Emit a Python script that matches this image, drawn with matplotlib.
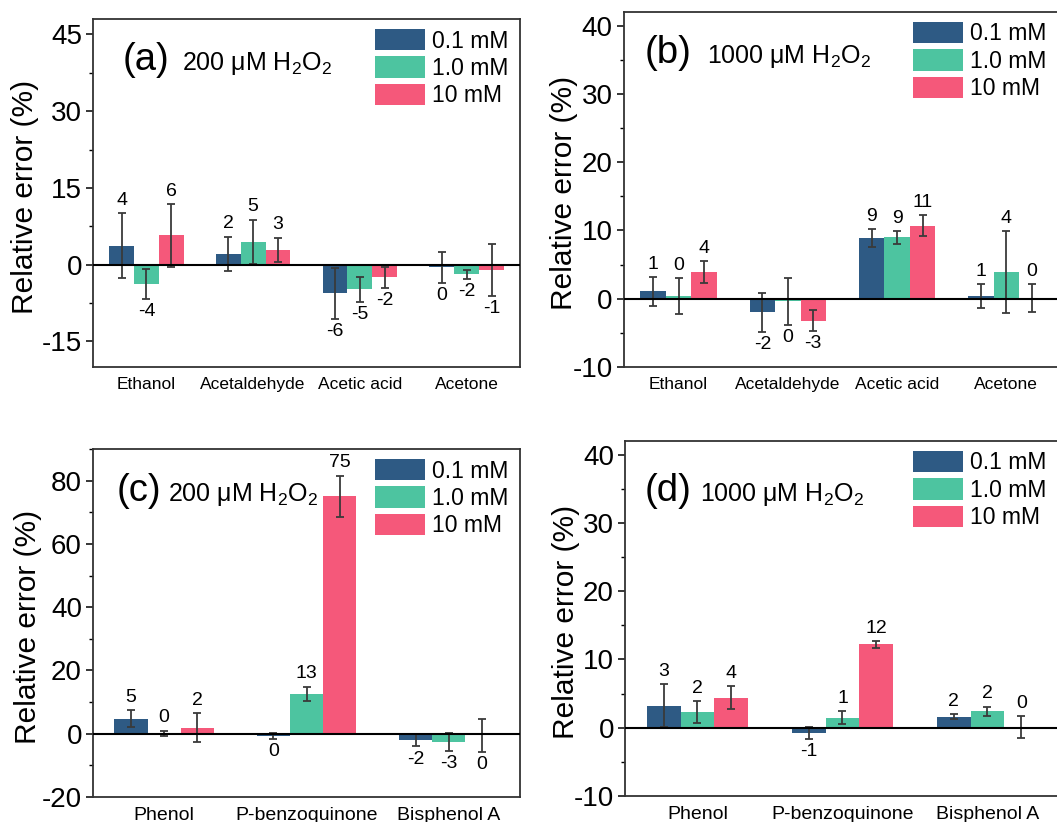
import matplotlib
matplotlib.use("Agg")
import matplotlib.pyplot as plt
import numpy as np
from matplotlib.patches import Patch
from matplotlib.ticker import MultipleLocator

plt.rcParams["font.family"] = ["Liberation Sans", "DejaVu Sans"]
plt.rcParams["mathtext.fontset"] = "custom"
plt.rcParams["mathtext.rm"] = "Liberation Sans"
plt.rcParams["mathtext.default"] = "regular"
plt.rcParams["axes.unicode_minus"] = False

_BLUE = "#2E5A84"; _GREEN = "#4DC4A0"; _PINK = "#F5587A"
_EDGE = "#333333"; _ERR = "#3A3A3A"

series_names = ["0.1 mM", "1.0 mM", "10 mM"]

# (a) 200 uM H2O2, volatile compounds
cats_ab = ["Ethanol", "Acetaldehyde", "Acetic acid", "Acetone"]
a_vals = [[3.7, 2.1, -5.6, -0.5], [-3.8, 4.5, -4.8, -1.9], [5.7, 2.9, -2.5, -1.0]]
a_errs = [[6.4, 3.4, 5.0, 3.0], [2.9, 4.3, 2.4, 0.85], [6.2, 2.4, 2.1, 5.1]]
a_lbls = [["4", "2", "-6", "0"], ["-4", "5", "-5", "-2"], ["6", "3", "-2", "-1"]]

# (b) 1000 uM H2O2, volatile compounds
b_vals = [[1.1, -2.0, 8.9, 0.4], [0.4, -0.4, 9.0, 3.9], [3.9, -3.2, 10.7, 0.1]]
b_errs = [[2.1, 2.9, 1.3, 1.8], [2.6, 3.4, 0.95, 6.0], [1.65, 1.55, 1.5, 2.0]]
b_lbls = [["1", "-2", "9", "1"], ["0", "0", "9", "4"], ["4", "-3", "11", "0"]]

# (c) 200 uM H2O2, aromatic compounds
cats_cd = ["Phenol", "P-benzoquinone", "Bisphenol A"]
c_vals = [[4.8, -0.7, -2.1], [0.2, 12.6, -2.7], [1.9, 75.0, -0.5]]
c_errs = [[2.7, 0.9, 1.9], [0.8, 2.3, 2.8], [4.65, 6.6, 5.3]]
c_lbls = [["5", "0", "-2"], ["0", "13", "-3"], ["2", "75", "0"]]

# (d) 1000 uM H2O2, aromatic compounds
d_vals = [[3.2, -0.8, 1.6], [2.25, 1.5, 2.4], [4.4, 12.2, 0.1]]
d_errs = [[3.15, 0.85, 0.35], [1.6, 1.0, 0.7], [1.7, 0.5, 1.6]]
d_lbls = [["3", "-1", "2"], ["2", "1", "2"], ["4", "12", "0"]]


def _panel(ax, cats, vals, errs, lbls, ylim, major, minor, tag, note,
           tag_pos, note_x, leg_pos, ylab_x, cat_fs=12.5):
    x = np.arange(len(cats))
    w = 0.233
    colors = [_BLUE, _GREEN, _PINK]
    for i, (v, e, lb) in enumerate(zip(vals, errs, lbls)):
        xs = x + (i - 1) * w
        ax.bar(xs, v, w, color=colors[i], edgecolor="none", zorder=2)
        ax.errorbar(xs, v, yerr=e, fmt="none", ecolor=_ERR, elinewidth=1.3,
                    capsize=3, capthick=1.3, zorder=3)
        for xi, vi, ei, t in zip(xs, v, e, lb):
            if vi >= 0:
                ax.annotate(t, (xi, vi + ei), xytext=(0, 3), textcoords="offset points",
                            ha="center", va="bottom", fontsize=14)
            else:
                ax.annotate(t, (xi, vi - ei), xytext=(0, -3), textcoords="offset points",
                            ha="center", va="top", fontsize=14)
    ax.axhline(0, color="black", lw=1.5, zorder=4)
    ax.set_xlim(-0.5, len(cats) - 0.5)
    ax.set_ylim(*ylim)
    ax.yaxis.set_major_locator(MultipleLocator(major))
    ax.yaxis.set_minor_locator(MultipleLocator(minor))
    ax.set_xticks(x)
    ax.set_xticklabels(cats, fontsize=cat_fs)
    ax.tick_params(axis="x", length=0, pad=7)
    ax.tick_params(axis="y", which="major", length=5, width=1.1, labelsize=20, pad=3)
    ax.tick_params(axis="y", which="minor", length=3, width=1.0)
    for sp in ax.spines.values():
        sp.set_linewidth(1.3); sp.set_edgecolor(_EDGE)
    ax.set_ylabel("Relative error (%)", fontsize=21.5)
    ax.yaxis.set_label_coords(ylab_x, 0.49)
    ax.text(tag_pos[0], tag_pos[1], tag, transform=ax.transAxes, fontsize=27.5,
            ha="left", va="baseline")
    ax.text(note_x, tag_pos[1], note, transform=ax.transAxes, fontsize=18,
            ha="left", va="baseline")
    handles = [Patch(facecolor=c, edgecolor="none") for c in colors]
    ax.legend(handles, series_names, loc="upper left", bbox_to_anchor=leg_pos,
              frameon=False, fontsize=16.5, handlelength=2.18, handleheight=1.05,
              labelspacing=0.17, handletextpad=0.3, borderpad=0, borderaxespad=0)


fig = plt.figure(figsize=(10.57, 8.22), dpi=100)
fig.patch.set_facecolor("white")
ax_a = fig.add_axes([0.088, 0.5535, 0.404, 0.4234])
ax_b = fig.add_axes([0.5903, 0.5535, 0.4135, 0.4319])
ax_c = fig.add_axes([0.088, 0.0304, 0.404, 0.4234])
ax_d = fig.add_axes([0.5913, 0.0316, 0.4115, 0.4319])

_panel(ax_a, cats_ab, a_vals, a_errs, a_lbls, (-20, 48), 15, 7.5, "(a)",
       "200 μM H$_2$O$_2$", (0.070, 0.852), 0.208, (0.660, 0.971), -0.126)
_panel(ax_b, cats_ab, b_vals, b_errs, b_lbls, (-10, 42), 10, 5, "(b)",
       "1000 μM H$_2$O$_2$", (0.048, 0.856), 0.190, (0.661, 0.972), -0.106)
_panel(ax_c, cats_cd, c_vals, c_errs, c_lbls, (-20, 90), 20, 10, "(c)",
       "200 μM H$_2$O$_2$", (0.056, 0.851), 0.176, (0.660, 0.971), -0.12, cat_fs=14)
_panel(ax_d, cats_cd, d_vals, d_errs, d_lbls, (-10, 42), 10, 5, "(d)",
       "1000 μM H$_2$O$_2$", (0.046, 0.831), 0.172, (0.662, 0.972), -0.103, cat_fs=14)

fig.savefig("out.png", dpi=100, facecolor="white")
